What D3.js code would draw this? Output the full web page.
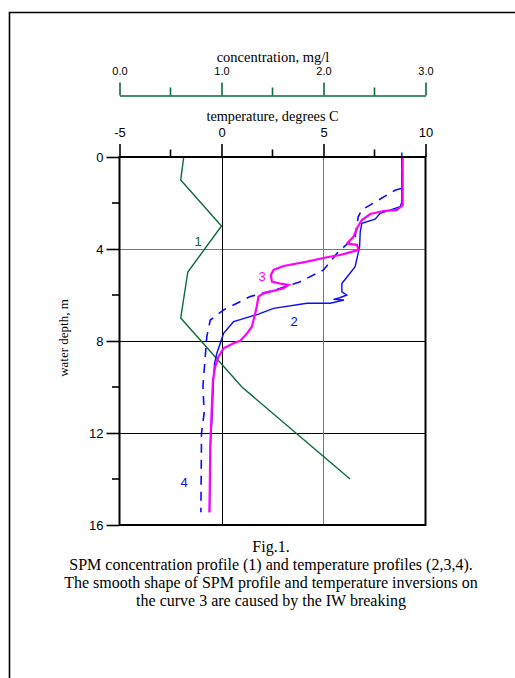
<!DOCTYPE html>
<html>
<head>
<meta charset="utf-8">
<script src="https://cdn.jsdelivr.net/npm/d3@7"></script>
<style>
  body { margin: 0; background: #fff; }
  svg { display: block; }
  .tick text { font-family: "Liberation Sans", Arial, sans-serif; }
</style>
</head>
<body>
<svg id="chart" width="515" height="678"></svg>
<script>
// depth axis (m) and the two top axes
const depthTicks = [0, 4, 8, 12, 16]
const depthMinor = [2, 6, 10, 14]
const tempTicks = [-5, 0, 5, 10]
const tempMinor = [-2.5, 2.5, 7.5]
const concTicks = [0, 1, 2, 3]
const concMinor = [0.5, 1.5, 2.5]

// curve 1 : SPM concentration, mg/l
const spmDepth = [0, 1, 3, 5, 7, 10, 14]
const spmConc = [0.63, 0.60, 1.0, 0.67, 0.60, 1.2, 2.26]

// curve 2 : temperature, solid blue
const t2Depth = [-0.2, 1.95, 2.16, 2.45, 2.7, 2.88, 3.25, 3.9, 4.77, 5.13, 5.5, 5.86, 6.0, 6.12, 6.19, 6.22, 6.36, 6.36, 6.58, 6.83, 7.07, 7.16, 7.67, 8.54, 8.97, 9.63, 11.43, 12.6, 15.45]
const t2Temp = [8.84, 8.84, 8.76, 7.78, 7.53, 6.88, 6.8, 6.77, 6.55, 6.23, 5.9, 5.9, 6.14, 5.8, 5.49, 6.0, 5.33, 4.19, 2.55, 1.81, 0.92, 0.59, 0.1, -0.23, -0.34, -0.39, -0.47, -0.55, -0.59]

// curve 3 : temperature, magenta
const t3Depth = [0, 2.1, 2.3, 2.35, 2.48, 2.74, 3.1, 3.47, 3.73, 3.78, 3.82, 4.04, 4.26, 4.36, 4.55, 4.74, 4.91, 5.13, 5.42, 5.52, 5.56, 5.71, 5.93, 6.07, 6.5, 6.8, 7.38, 7.67, 7.99, 8.1, 8.32, 8.68, 9.12, 9.7, 11.43, 12.6, 15.45]
const t3Temp = [8.88, 8.88, 8.6, 7.94, 7.29, 6.88, 6.64, 6.47, 6.18, 6.25, 6.64, 6.72, 5.82, 5.17, 4.19, 3.04, 2.55, 2.42, 2.47, 2.96, 3.28, 3.04, 2.06, 1.81, 1.73, 1.65, 1.49, 1.25, 0.92, 0.59, 0.1, -0.15, -0.31, -0.42, -0.5, -0.55, -0.59]

// curve 4 : temperature, dashed blue
const t4Depth = [0, 1.36, 1.45, 2.3, 2.6, 3.46, 4.19, 4.91, 5.42, 5.71, 6.07, 6.65, 7.09, 7.81, 9.97, 11.13, 12.0, 15.45]
const t4Temp = [8.84, 8.84, 8.5, 6.88, 6.7, 6.55, 5.66, 5.0, 3.86, 2.88, 1.4, 0.1, -0.55, -0.72, -0.91, -0.85, -0.98, -1.01]

const captionLines = [
    'Fig.1.',
    'SPM concentration profile (1) and temperature profiles (2,3,4).',
    'The smooth shape of SPM profile and temperature inversions on',
    'the curve 3 are caused by the IW breaking'
]

const green = '#0b6b3a'
const blue = '#0a0aff'
const magenta = '#ff00ff'
const serif = '"Liberation Serif", "Times New Roman", serif'

const svg = d3.select('#chart')

// page frame (only top and left edges are in view)
svg.append('path')
    .attr('d', 'M9.5,678 L9.5,12.5 L515,12.5')
    .attr('fill', 'none')
    .attr('stroke', '#000')
    .attr('stroke-width', 1.6)

const plotL = 119.5, plotR = 425.5, plotT = 157, plotB = 525

const x = d3.scaleLinear().domain([-5, 10]).range([plotL, plotR])
const xc = d3.scaleLinear().domain([0, 3]).range([plotL, plotR])
const y = d3.scaleLinear().domain([0, 16]).range([plotT, plotB])

// grid lines
const gridH = [{ v: 4, c: '#777' }, { v: 8, c: '#000' }, { v: 12, c: '#000' }]
const gridV = [{ v: 0, c: '#000' }, { v: 5, c: '#777' }]
svg.append('g').selectAll('line').data(gridH).join('line')
    .attr('x1', plotL).attr('x2', plotR)
    .attr('y1', d => y(d.v) + 0.5).attr('y2', d => y(d.v) + 0.5)
    .attr('stroke', d => d.c).attr('stroke-width', 1)
svg.append('g').selectAll('line').data(gridV).join('line')
    .attr('y1', plotT).attr('y2', plotB)
    .attr('x1', d => Math.round(x(d.v)) + 0.5).attr('x2', d => Math.round(x(d.v)) + 0.5)
    .attr('stroke', d => d.c).attr('stroke-width', 1)

// curves
const line = d3.line()
const pts = (ds, vs, sx) => ds.map((d, i) => [sx(vs[i]), y(d)])

svg.append('path')
    .attr('d', line(pts(spmDepth, spmConc, xc)))
    .attr('fill', 'none').attr('stroke', green).attr('stroke-width', 1.4)

svg.append('path')
    .attr('d', line(pts(t4Depth, t4Temp, x)))
    .attr('fill', 'none').attr('stroke', blue).attr('stroke-width', 1.6)
    .attr('stroke-dasharray', '9,7')

svg.append('path')
    .attr('d', line(pts(t2Depth, t2Temp, x)))
    .attr('fill', 'none').attr('stroke', blue).attr('stroke-width', 1.4)

svg.append('path')
    .attr('d', line(pts(t3Depth, t3Temp, x)))
    .attr('fill', 'none').attr('stroke', magenta).attr('stroke-width', 2.2)

// curve labels
const labels = [
    { t: '1', c: green, px: 198, py: 246 },
    { t: '2', c: blue, px: 294, py: 326 },
    { t: '3', c: magenta, px: 262, py: 281 },
    { t: '4', c: blue, px: 184, py: 487 }
]
svg.append('g').selectAll('text').data(labels).join('text')
    .attr('x', d => d.px).attr('y', d => d.py)
    .attr('text-anchor', 'middle')
    .attr('font-family', '"Liberation Sans", Arial, sans-serif')
    .attr('font-size', 13)
    .attr('fill', d => d.c)
    .text(d => d.t)

// plot frame
svg.append('rect')
    .attr('x', plotL).attr('y', plotT)
    .attr('width', plotR - plotL).attr('height', plotB - plotT)
    .attr('fill', 'none').attr('stroke', '#000').attr('stroke-width', 2)

// depth axis
const yAxis = svg.append('g')
    .attr('transform', `translate(${plotL},0)`)
    .call(d3.axisLeft(y).tickValues(depthTicks).tickSize(13).tickSizeOuter(0).tickPadding(3))
yAxis.select('.domain').remove()
yAxis.selectAll('.tick line').attr('stroke-width', 1.6)
yAxis.selectAll('.tick text').attr('font-size', 13).attr('fill', '#000')
svg.append('g').selectAll('line').data(depthMinor).join('line')
    .attr('x1', plotL - 7.5).attr('x2', plotL)
    .attr('y1', d => y(d)).attr('y2', d => y(d))
    .attr('stroke', '#000').attr('stroke-width', 1.6)

svg.append('text')
    .attr('transform', `translate(68,338) rotate(-90)`)
    .attr('text-anchor', 'middle')
    .attr('font-family', serif).attr('font-size', 13)
    .text('water depth, m')

// temperature axis
const tAxis = svg.append('g')
    .attr('transform', `translate(0,${plotT})`)
    .call(d3.axisTop(x).tickValues(tempTicks).tickFormat(d => String(d)).tickSize(13).tickSizeOuter(0).tickPadding(7))
tAxis.select('.domain').remove()
tAxis.selectAll('.tick line').attr('stroke-width', 1.6)
tAxis.selectAll('.tick text').attr('font-size', 13).attr('fill', '#000')
svg.append('g').selectAll('line').data(tempMinor).join('line')
    .attr('x1', d => x(d)).attr('x2', d => x(d))
    .attr('y1', plotT - 7.5).attr('y2', plotT)
    .attr('stroke', '#000').attr('stroke-width', 1.6)
svg.append('text')
    .attr('x', 272.5).attr('y', 121)
    .attr('text-anchor', 'middle')
    .attr('font-family', serif).attr('font-size', 14.3)
    .text('temperature, degrees C')

// concentration axis
const cy = 95.5
const cAxis = svg.append('g')
    .attr('transform', `translate(0,${cy})`)
    .call(d3.axisTop(xc).tickValues(concTicks).tickFormat(d3.format('.1f')).tickSize(13).tickSizeOuter(0).tickPadding(8))
cAxis.select('.domain').attr('stroke', green).attr('stroke-width', 1.6)
cAxis.selectAll('.tick line').attr('stroke', green).attr('stroke-width', 1.6)
cAxis.selectAll('.tick text').attr('font-size', 11).attr('fill', '#000')
svg.append('g').selectAll('line').data(concMinor).join('line')
    .attr('x1', d => xc(d)).attr('x2', d => xc(d))
    .attr('y1', cy - 8).attr('y2', cy)
    .attr('stroke', green).attr('stroke-width', 1.6)
svg.append('text')
    .attr('x', 273).attr('y', 62)
    .attr('text-anchor', 'middle')
    .attr('font-family', serif).attr('font-size', 14.5)
    .text('concentration, mg/l')

// caption
svg.append('g').selectAll('text').data(captionLines).join('text')
    .attr('x', 271)
    .attr('y', (d, i) => 552 + i * 18)
    .attr('text-anchor', 'middle')
    .attr('font-family', serif).attr('font-size', 16)
    .text(d => d)
</script>
</body>
</html>
